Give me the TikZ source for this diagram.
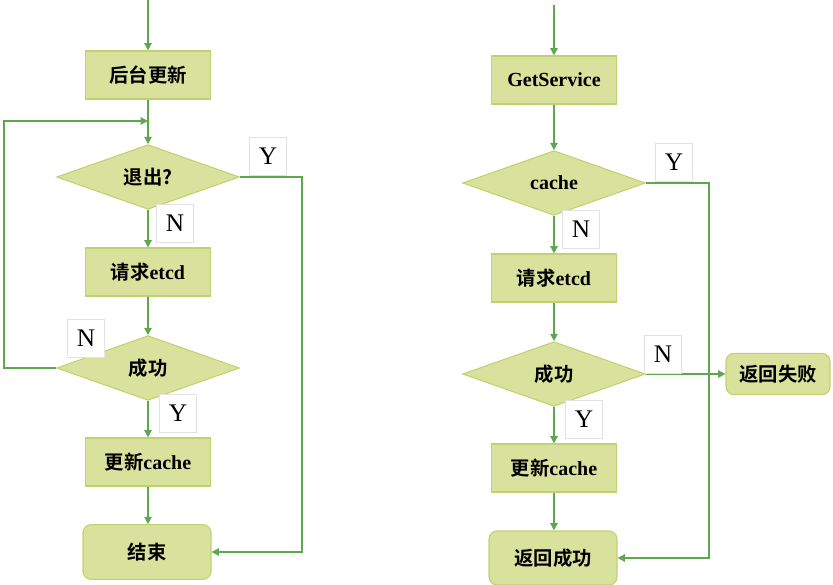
\documentclass[tikz,border=0pt]{standalone}
\usepackage{fontspec}
\setmainfont{Liberation Serif}
\newfontfamily\cjk{Noto Sans CJK SC Bold}
\usetikzlibrary{shapes.geometric,arrows.meta}
\definecolor{boxfill}{HTML}{D9E29C}
\definecolor{boxline}{HTML}{C2D170}
\definecolor{flow}{HTML}{5FA64E}
\definecolor{tagline}{HTML}{E2E2E2}
\newcommand{\zh}[1]{{\cjk #1}}
\newcommand{\lt}[1]{{\bfseries\fontsize{15pt}{16pt}\selectfont #1}}
\begin{document}
\begin{tikzpicture}[x=0.75pt,y=-0.75pt,
  every node/.style={font=\fontsize{14.5pt}{16pt}\selectfont},
  procbox/.style={draw=boxline,fill=boxfill,line width=0.8pt,minimum width=93.5pt,minimum height=36pt,inner sep=0pt},
  endbox/.style={procbox,rounded corners=6pt},
  decide/.style={diamond,draw=boxline,fill=boxfill,line width=0.8pt,minimum width=137pt,minimum height=48.5pt,inner sep=0pt,aspect=2.8},
  tag/.style={draw=tagline,fill=white,line width=0.6pt,minimum width=27.5pt,minimum height=28.5pt,inner sep=0pt,font=\fontsize{19pt}{20pt}\selectfont},
  arr/.style={draw=flow,line width=1.1pt,-{Triangle[width=5.5pt,length=5.5pt]}},
  ln/.style={draw=flow,line width=1.1pt}]
\useasboundingbox (0,0) rectangle (833,585);

% ---- left flow: background refresh ----
\coordinate (ltop) at (148,0);
\node[procbox] (b1) at (148,75) {\zh{后台更新}};
\node[decide] (d1) at (148,177) {\zh{退出?}};
\node[procbox] (b2) at (148,272) {\zh{请求}\lt{etcd}};
\node[decide] (d2) at (148,368) {\zh{成功}};
\node[procbox] (b3) at (148,462) {\zh{更新}\lt{cache}};
\node[endbox,minimum width=96pt,minimum height=41pt] (e1) at (147,552) {\zh{结束}};

\coordinate (loopin) at (148,121);
\coordinate (loopl) at (4,368);
\coordinate (exitr) at (302,177);

\draw[arr] (ltop) -- (b1);
\draw[ln] (b1) -- (loopin);
\draw[arr] (loopin) -- (d1);
\draw[arr] (d1) -- (b2);
\draw[arr] (b2) -- (d2);
\draw[arr] (d2) -- (b3);
\draw[arr] (b3.south) -- (b3.south |- e1.north);
\draw[arr] (d2.west) -- (loopl) |- (loopin);
\draw[arr] (d1.east) -- (exitr) |- (e1.east);

\node[tag] (ly1) at (268,156) {Y};
\node[tag] (ln1) at (175,223) {N};
\node[tag] (ln2) at (86,338) {N};
\node[tag] (ly2) at (178,413) {Y};

% ---- right flow: GetService ----
\coordinate (rtop) at (554,5);
\node[procbox] (r1) at (554,80) {\lt{GetService}};
\node[decide] (rd1) at (554,183) {\lt{cache}};
\node[procbox] (r2) at (554,278) {\zh{请求}\lt{etcd}};
\node[decide] (rd2) at (554,374) {\zh{成功}};
\node[procbox] (r3) at (554,468) {\zh{更新}\lt{cache}};
\node[endbox,minimum width=96pt,minimum height=40.5pt] (r4) at (553,558) {\zh{返回成功}};
\node[endbox,minimum width=78pt,minimum height=31pt] (rf) at (778,374) {\zh{返回失败}};

\coordinate (hitr) at (709,183);

\draw[arr] (rtop) -- (r1);
\draw[arr] (r1) -- (rd1);
\draw[arr] (rd1) -- (r2);
\draw[arr] (r2) -- (rd2);
\draw[arr] (rd2) -- (r3);
\draw[arr] (r3.south) -- (r3.south |- r4.north);
\draw[arr] (rd2.east) -- (rf.west);
\draw[arr] (rd1.east) -- (hitr) |- (r4.east);

\node[tag] (ry1) at (674,162) {Y};
\node[tag] (rn1) at (581,229) {N};
\node[tag] (rn2) at (663,354) {N};
\node[tag] (ry2) at (584,419) {Y};
\end{tikzpicture}
\end{document}
